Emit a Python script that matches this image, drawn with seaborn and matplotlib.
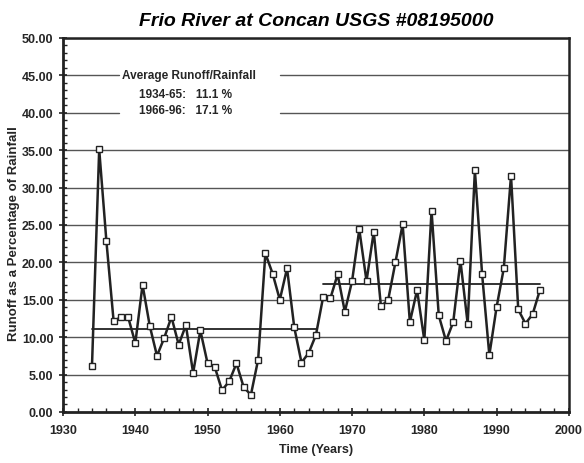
import matplotlib
matplotlib.use('Agg')
import matplotlib.pyplot as plt
import pandas as pd
import seaborn as sns
from matplotlib.ticker import MultipleLocator

years = list(range(1934, 1997))
runoff = [6.1, 35.1, 22.8, 12.1, 12.7, 12.7, 9.2, 17.0, 11.5, 7.5,
          9.9, 12.7, 9.0, 11.6, 5.2, 10.9, 6.5, 6.0, 2.9, 4.1,
          6.5, 3.3, 2.3, 7.0, 21.2, 18.5, 15.0, 19.2, 11.3, 6.6,
          7.9, 10.3, 15.4, 15.2, 18.4, 13.4, 17.5, 24.4, 17.5, 24.1,
          14.1, 15.0, 20.0, 25.1, 12.0, 16.3, 9.6, 26.9, 12.9, 9.5,
          12.0, 20.2, 11.8, 32.3, 18.4, 7.6, 14.0, 19.2, 31.6, 13.7,
          11.8, 13.1, 16.3]

# period averages
avg_periods = [(1934, 1965), (1966, 1996)]
avg_values = [11.1, 17.1]
avg_labels = ['1934-65:   11.1 %', '1966-96:   17.1 %']

df = pd.DataFrame({'Year': years, 'Runoff': runoff})

sns.set_style('white')
plt.rcParams['font.family'] = ['Liberation Sans', 'DejaVu Sans']

fig = plt.figure(figsize=(5.84, 4.64), dpi=100)
ax = fig.add_axes([0.108, 0.110, 0.866, 0.806])

# gridlines; the two behind the note box are broken
for y in range(5, 51, 5):
    if y in (40, 45):
        ax.axhline(y, xmax=0.11, color='#555555', lw=1.0, zorder=0)
        ax.axhline(y, xmin=0.429, color='#555555', lw=1.0, zorder=0)
    else:
        ax.axhline(y, color='#555555', lw=1.0, zorder=0)

for (x0, x1), v in zip(avg_periods, avg_values):
    ax.plot([x0, x1], [v, v], color='#222222', lw=1.3, zorder=1)

sns.lineplot(x='Year', y='Runoff', data=df, ax=ax, color='#222222', lw=1.8,
             marker='s', markersize=4.5, markerfacecolor='white',
             markeredgecolor='#222222', markeredgewidth=1.0, zorder=3)

ax.text(1947.4, 45.0, 'Average Runoff/Rainfall', ha='center', va='center',
        fontsize=8.5, fontweight='bold', zorder=2)
ax.text(1946.9, 42.5, avg_labels[0], ha='center', va='center',
        fontsize=8.5, fontweight='bold', zorder=2)
ax.text(1946.9, 40.4, avg_labels[1], ha='center', va='center',
        fontsize=8.5, fontweight='bold', zorder=2)

ax.set_xlim(1930, 2000)
ax.set_ylim(0, 50)
ax.xaxis.set_major_locator(MultipleLocator(10))
ax.xaxis.set_minor_locator(MultipleLocator(2))
ax.yaxis.set_major_locator(MultipleLocator(5))
ax.yaxis.set_minor_locator(MultipleLocator(1))
ax.set_yticklabels([f'{v:.2f}' for v in ax.get_yticks()])
ax.tick_params(which='major', direction='inout', length=6, width=1.2,
               labelsize=9, color='#222222')
ax.tick_params(axis='x', which='major', pad=6)
ax.tick_params(axis='y', which='major', pad=4)
ax.tick_params(which='minor', direction='in', length=3, width=1.0,
               color='#222222')
ax.tick_params(axis='both', which='both', left=True, bottom=True)
for lab in ax.get_xticklabels() + ax.get_yticklabels():
    lab.set_fontweight('bold')

for side in ['left', 'bottom']:
    ax.spines[side].set_linewidth(2.0)
    ax.spines[side].set_color('#222222')
for side in ['top', 'right']:
    ax.spines[side].set_linewidth(1.8)
    ax.spines[side].set_color('#222222')

ax.set_title('Frio River at Concan USGS #08195000', fontsize=14,
             fontweight='bold', fontstyle='italic', pad=9, color='black')
ax.set_xlabel('Time (Years)', fontsize=9, fontweight='bold', labelpad=5)
ax.set_ylabel('Runoff as a Percentage of Rainfall', fontsize=9.5,
              fontweight='bold', labelpad=1)
ax.yaxis.label.set_y(0.48)

fig.savefig('out.png', dpi=100)
